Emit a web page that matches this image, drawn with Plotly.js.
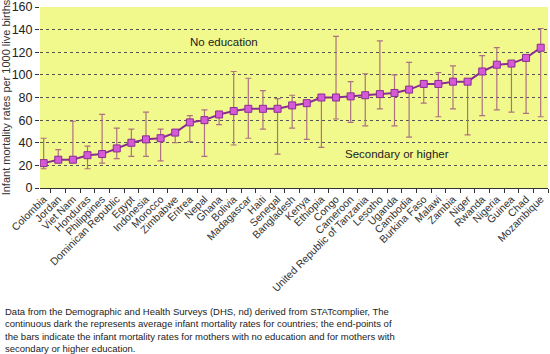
<!DOCTYPE html>
<html>
<head>
<meta charset="utf-8">
<script src="https://cdn.plot.ly/plotly-3.0.1.min.js"></script>
<style>html,body{margin:0;padding:0;background:#fff;}#chart{width:550px;height:354px;}</style>
</head>
<body>
<div id="chart"></div>
<script>
const countries = ["Colombia","Jordan","Viet Nam","Honduras","Philippines","Dominican Republic","Egypt","Indonesia","Morocco","Zimbabwe","Eritrea","Nepal","Ghana","Bolivia","Madagascar","Haiti","Senegal","Bangladesh","Kenya","Ethiopia","Congo","Cameroon","United Republic of Tanzania","Lesotho","Uganda","Cambodia","Burkina Faso","Malawi","Zambia","Niger","Rwanda","Nigeria","Guinea","Chad","Mozambique"];
const averageRate = [22,25,25,29,30,35,40,43,44,49,58,60,65,68,70,70,70,73,75,80,80,81,82,83,84,87,92,92,94,94,103,109,110,115,124];
const noEducation = [44,34,59,37,65,53,52,67,52,51,64,69,66,103,97,86,79,82,77,81,134,94,101,130,100,111,93,102,108,95,117,124,111,116,141];
const secondaryOrHigher = [17,23,24,17,22,26,28,28,24,40,41,28,56,38,44,52,30,53,43,36,61,58,55,70,55,45,75,63,70,47,64,69,67,66,63];

const plus = noEducation.map((v,i)=>Math.max(0,v-averageRate[i]));
const minus = secondaryOrHigher.map((v,i)=>Math.max(0,averageRate[i]-v));

const trace = {
  x: countries,
  y: averageRate,
  type: 'scatter',
  mode: 'lines+markers',
  line: {color: '#8a2d92', width: 2},
  marker: {symbol: 'square', size: 7, color: '#d65ad8', line: {color: '#8a2d92', width: 1}},
  error_y: {type: 'data', symmetric: false, array: plus, arrayminus: minus, color: '#ad7280', thickness: 1.2, width: 3},
  hoverinfo: 'skip'
};

const layout = {
  width: 550, height: 354,
  margin: {l: 40, r: 2, t: 7, b: 166},
  paper_bgcolor: '#ffffff',
  plot_bgcolor: '#f1f98c',
  showlegend: false,
  font: {family: 'Liberation Sans, Arial, sans-serif', color: '#222'},
  xaxis: {
    type: 'category',
    range: [-0.25, 34.5],
    tickson: 'boundaries',
    ticks: 'outside', ticklen: 4, tickcolor: '#333',
    tickangle: -45,
    tickfont: {size: 10.5, color: '#333'},
    showgrid: false,
    showline: true, linecolor: '#333', linewidth: 1,
    zeroline: false, fixedrange: true
  },
  yaxis: {
    range: [0, 160],
    dtick: 20,
    ticks: 'outside', ticklen: 4, tickcolor: '#333',
    tickfont: {size: 12.5, color: '#222'},
    showgrid: true, gridcolor: '#555', griddash: 'dot', gridwidth: 1,
    showline: false, zeroline: false,
    title: {text: 'Infant mortality rates per 1000 live births', font: {size: 11, color: '#333'}, standoff: 2},
    fixedrange: true
  },
  annotations: [
    {xref: 'paper', yref: 'y', x: (188-40)/508, y: 129, text: 'No education', showarrow: false, font: {size: 11.5, color: '#222'}},
    {xref: 'paper', yref: 'y', x: (451-40)/508, y: 30, text: 'Secondary or higher', showarrow: false, font: {size: 11.5, color: '#222'}},
    {xref: 'paper', yref: 'paper', x: (3-40)/508, y: (188-304)/181, xanchor: 'left', yanchor: 'top', align: 'left', showarrow: false,
     text: 'Data from the Demographic and Health Surveys (DHS, nd) derived from STATcomplier, The<br>continuous dark the represents average infant mortality rates for countries; the end-points of<br>the bars indicate the infant mortality rates for mothers with no education and for mothers with<br>secondary or higher education.',
     font: {size: 9.5, family: 'Liberation Sans, Arial, sans-serif', color: '#222'}}
  ]
};

Plotly.newPlot('chart', [trace], layout, {staticPlot: true, displayModeBar: false});
</script>
</body>
</html>
